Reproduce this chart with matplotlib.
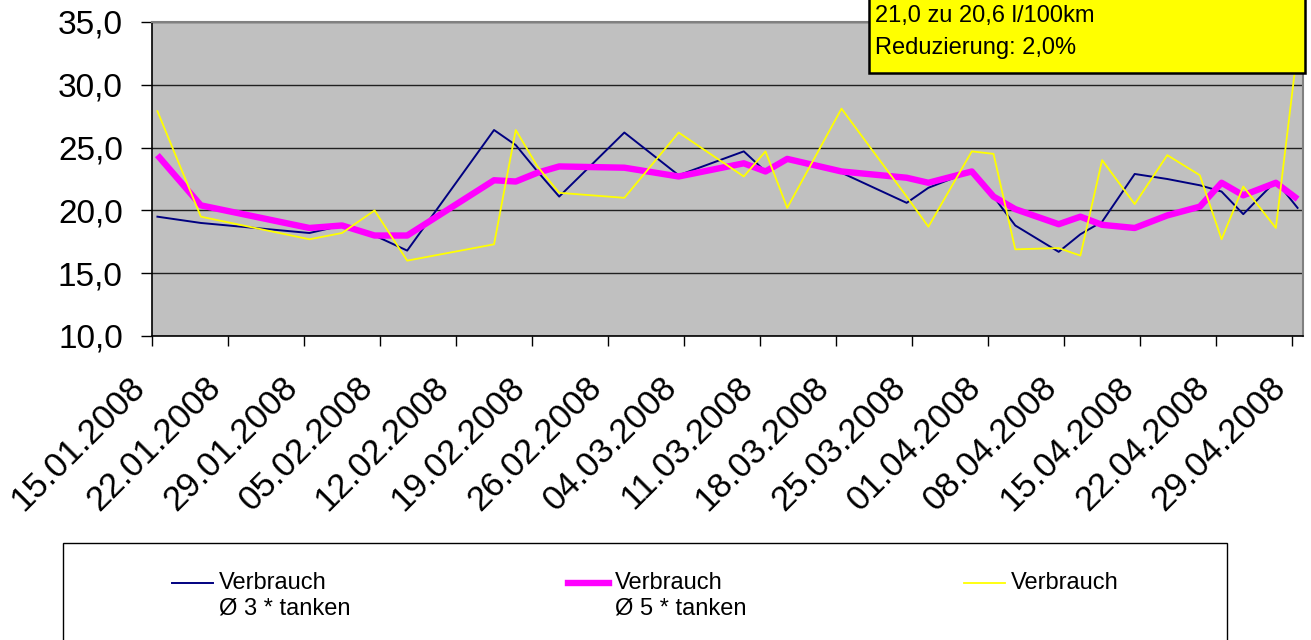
import matplotlib
matplotlib.use("Agg")
import matplotlib.pyplot as plt
from matplotlib.lines import Line2D
from matplotlib.patches import Rectangle
from matplotlib.legend_handler import HandlerLine2D
from matplotlib.transforms import ScaledTranslation
import numpy as np
import pandas as pd

plt.rcParams["font.family"] = ["Liberation Sans", "DejaVu Sans"]

# refuel dates and consumption (l/100km)
dates = ["15.01.2008", "19.01.2008", "29.01.2008", "01.02.2008", "04.02.2008",
         "07.02.2008", "15.02.2008", "17.02.2008", "19.02.2008", "21.02.2008",
         "27.02.2008", "03.03.2008", "09.03.2008", "11.03.2008", "13.03.2008",
         "18.03.2008", "24.03.2008", "26.03.2008", "30.03.2008", "01.04.2008",
         "03.04.2008", "07.04.2008", "09.04.2008", "11.04.2008", "14.04.2008",
         "17.04.2008", "20.04.2008", "22.04.2008", "24.04.2008", "27.04.2008",
         "29.04.2008"]
avg3 = [19.5, 19.0, 18.2, 18.8, 18.0, 16.8, 26.4, 25.2, 23.1, 21.1, 26.2,
        22.8, 24.7, 23.1, 24.0, 23.0, 20.6, 21.8, 23.15, 21.1, 18.8, 16.7,
        18.1, 19.1, 22.9, 22.5, 22.0, 21.5, 19.7, 22.35, 20.2]
avg5 = [24.4, 20.4, 18.6, 18.8, 18.0, 18.0, 22.4, 22.3, 23.0, 23.5, 23.4,
        22.7, 23.75, 23.1, 24.1, 23.1, 22.6, 22.2, 23.1, 21.1, 20.1, 18.9,
        19.5, 18.85, 18.6, 19.6, 20.3, 22.2, 21.2, 22.2, 20.9]
verbrauch = [27.9, 19.5, 17.7, 18.2, 20.0, 16.0, 17.3, 26.4, 23.5, 21.4, 21.0,
             26.2, 22.7, 24.7, 20.2, 28.1, 21.1, 18.7, 24.7, 24.5, 16.9, 17.0,
             16.4, 24.0, 20.5, 24.4, 22.8, 17.7, 21.9, 18.6, 32.9]
labels = ["Verbrauch\nØ 3 * tanken", "Verbrauch\nØ 5 * tanken", "Verbrauch\n "]
box_lines = ["21,0 zu 20,6 l/100km", "Reduzierung: 2,0%"]


class TopLineHandler(HandlerLine2D):
    """Legend handle aligned with the first line of a two-line label."""
    def create_artists(self, legend, orig_handle, xdescent, ydescent,
                       width, height, fontsize, trans):
        arts = super().create_artists(legend, orig_handle, xdescent, ydescent,
                                      width, height, fontsize, trans)
        for a in arts:
            a.set_ydata(np.asarray(a.get_ydata()) + 0.55 * fontsize)
        return arts


W, H = 1311, 640
fig = plt.figure(figsize=(W / 100, H / 100), dpi=100)
ax = fig.add_axes([152 / W, 1 - 336 / H, (1303 - 152) / W, (336 - 22) / H])
ax.set_facecolor("#C0C0C0")

# Excel date axis: points sit in the middle of their day
x = pd.to_datetime(dates, format="%d.%m.%Y") + pd.Timedelta(hours=12)

ax.plot(x, avg3, color="#000080", lw=1.4, zorder=3)
ax.plot(x, avg5, color="#FF00FF", lw=4.6, zorder=4, solid_capstyle="butt")
ax.plot(x, verbrauch, color="#FFFF00", lw=1.3, zorder=5)

ax.set_ylim(10, 35)
ax.set_xlim(pd.Timestamp("2008-01-15"), pd.Timestamp("2008-04-30"))
yt = np.arange(10, 36, 5)
ax.set_yticks(yt)
ax.set_yticklabels([f"{v:.1f}".replace(".", ",") for v in yt])
ticks = pd.date_range("2008-01-15", "2008-04-29", freq="7D")
ax.set_xticks(ticks)
ax.set_xticklabels([t.strftime("%d.%m.%Y") for t in ticks], rotation=45,
                   ha="right", va="center", rotation_mode="anchor")

ax.yaxis.grid(True, color="#202020", lw=1.0)
ax.set_axisbelow(True)
ax.tick_params(axis="y", length=8, width=1, pad=13, labelsize=24)
ax.tick_params(axis="x", length=7.5, width=1, pad=26, labelsize=25)
shift = ScaledTranslation(-0.12, 0.0, fig.dpi_scale_trans)
for lab in ax.get_xticklabels():
    lab.set_transform(lab.get_transform() + shift)
for s in ["left", "bottom"]:
    ax.spines[s].set_color("black")
    ax.spines[s].set_linewidth(1.2)
for s in ["top", "right"]:
    ax.spines[s].set_color("#808080")
    ax.spines[s].set_linewidth(1.5)

# annotation box (top right)
fig.patches.append(Rectangle((869 / W, 1 - 73 / H), (1305 - 869) / W, 80 / H,
                             transform=fig.transFigure, facecolor="#FFFF00",
                             edgecolor="black", lw=1.8, zorder=10))
fig.text(875 / W, 1 - 16 / H, box_lines[0], fontsize=17, va="center", zorder=11)
fig.text(875 / W, 1 - 48 / H, box_lines[1], fontsize=17, va="center", zorder=11)

# legend
handles = [Line2D([], [], color="#000080", lw=1.4),
           Line2D([], [], color="#FF00FF", lw=4.6),
           Line2D([], [], color="#FFFF00", lw=1.3)]
fig.patches.append(Rectangle((63 / W, -0.05), (1227 - 63) / W, (640 - 543) / H + 0.05,
                             transform=fig.transFigure, fill=False,
                             edgecolor="black", lw=1.0))
fig.legend(handles, labels, ncol=3, loc="upper left",
           bbox_to_anchor=(172 / W, 1 - 572 / H), frameon=False, fontsize=17,
           handlelength=1.75, handletextpad=0.25, columnspacing=9.2,
           borderpad=0, borderaxespad=0,
           handler_map={Line2D: TopLineHandler()})

fig.savefig("out.png", dpi=100)
